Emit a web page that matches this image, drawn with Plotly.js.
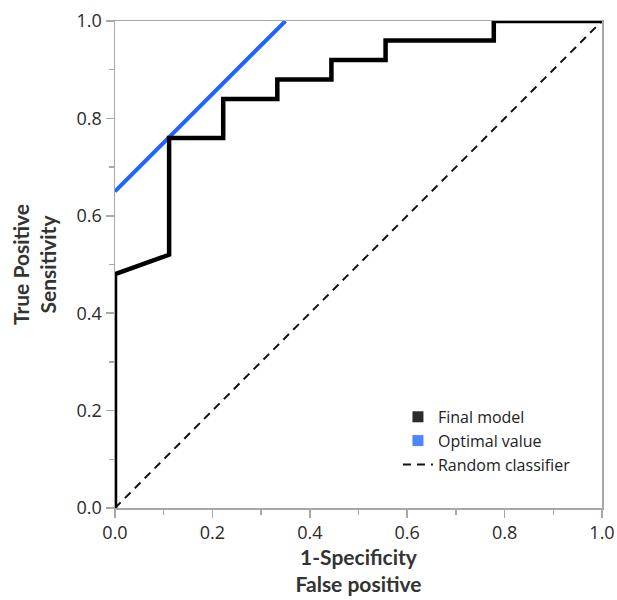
<!DOCTYPE html>
<html>
<head>
<meta charset="utf-8">
<script src="https://cdn.plot.ly/plotly-3.0.1.min.js"></script>
<style>html,body{margin:0;padding:0;background:#fff;}#chart{width:617px;height:600px;}</style>
</head>
<body>
<div id="chart"></div>
<script>
// Final model ROC curve (1-Specificity vs Sensitivity)
const finalFPR = [0, 0, 0.1111, 0.1111, 0.2222, 0.2222, 0.3333, 0.3333, 0.4444, 0.4444, 0.5556, 0.5556, 0.7778, 0.7778, 1.0];
const finalTPR = [0, 0.48, 0.52, 0.76, 0.76, 0.84, 0.84, 0.88, 0.88, 0.92, 0.92, 0.96, 0.96, 1.0, 1.0];
// Optimal value line
const optimalX = [0, 0.35];
const optimalY = [0.65, 1.0];
// Random classifier diagonal
const randomX = [0, 1];
const randomY = [0, 1];
const seriesNames = ['Final model', 'Optimal value', 'Random classifier'];
const tickVals = [0, 0.2, 0.4, 0.6, 0.8, 1.0];
const tickText = ['0.0', '0.2', '0.4', '0.6', '0.8', '1.0'];

const traces = [
  {x: randomX, y: randomY, mode: 'lines', name: seriesNames[2], showlegend: false,
   line: {color: '#111', width: 2, dash: '8px,6px'}},
  {x: optimalX, y: optimalY, mode: 'lines', name: seriesNames[1], showlegend: false,
   line: {color: '#1f64ff', width: 4}},
  {x: finalFPR, y: finalTPR, mode: 'lines', name: seriesNames[0], showlegend: false,
   line: {color: '#000', width: 4.5}},
  // legend entries
  {x: [null], y: [null], mode: 'markers', name: seriesNames[0],
   marker: {symbol: 'square', size: 11, color: '#2b2b2b'}},
  {x: [null], y: [null], mode: 'markers', name: seriesNames[1],
   marker: {symbol: 'square', size: 11, color: '#4d84ff'}},
  {x: [null], y: [null], mode: 'lines', name: seriesNames[2],
   line: {color: '#111', width: 2, dash: '8px,6px'}}
];

const axisCommon = {
  range: [0, 1], tickvals: tickVals, ticktext: tickText,
  showgrid: false, zeroline: false,
  showline: true, linecolor: '#a8a8a8', linewidth: 1.5, mirror: true,
  ticks: 'outside', ticklen: 8, tickwidth: 1.5, tickcolor: '#a8a8a8',
  minor: {dtick: 0.1, tick0: 0, ticks: 'outside', ticklen: 5, tickwidth: 1.5, tickcolor: '#a8a8a8'},
  tickfont: {family: 'Open Sans', size: 18, color: '#2a2a2a'},
  fixedrange: true
};

const layout = {
  width: 617, height: 600,
  margin: {l: 115, r: 15, t: 21, b: 92},
  paper_bgcolor: '#fff', plot_bgcolor: '#fff',
  xaxis: Object.assign({}, axisCommon, {
    title: {text: '<b>1-Specificity</b><br><b>False positive</b>', standoff: 6,
            font: {family: 'Lato', size: 21, color: '#333'}}
  }),
  yaxis: Object.assign({}, axisCommon, {
    title: {text: '<b>True Positive</b><br><b>Sensitivity</b>', standoff: 14,
            font: {family: 'Lato', size: 21, color: '#333'}}
  }),
  showlegend: true,
  legend: {x: 0.581, y: 0.222, xanchor: 'left', yanchor: 'top',
           bgcolor: 'rgba(0,0,0,0)', borderwidth: 0,
           font: {family: 'Open Sans', size: 16, color: '#222'}}
};

Plotly.newPlot('chart', traces, layout, {displayModeBar: false, staticPlot: true});
</script>
</body>
</html>
